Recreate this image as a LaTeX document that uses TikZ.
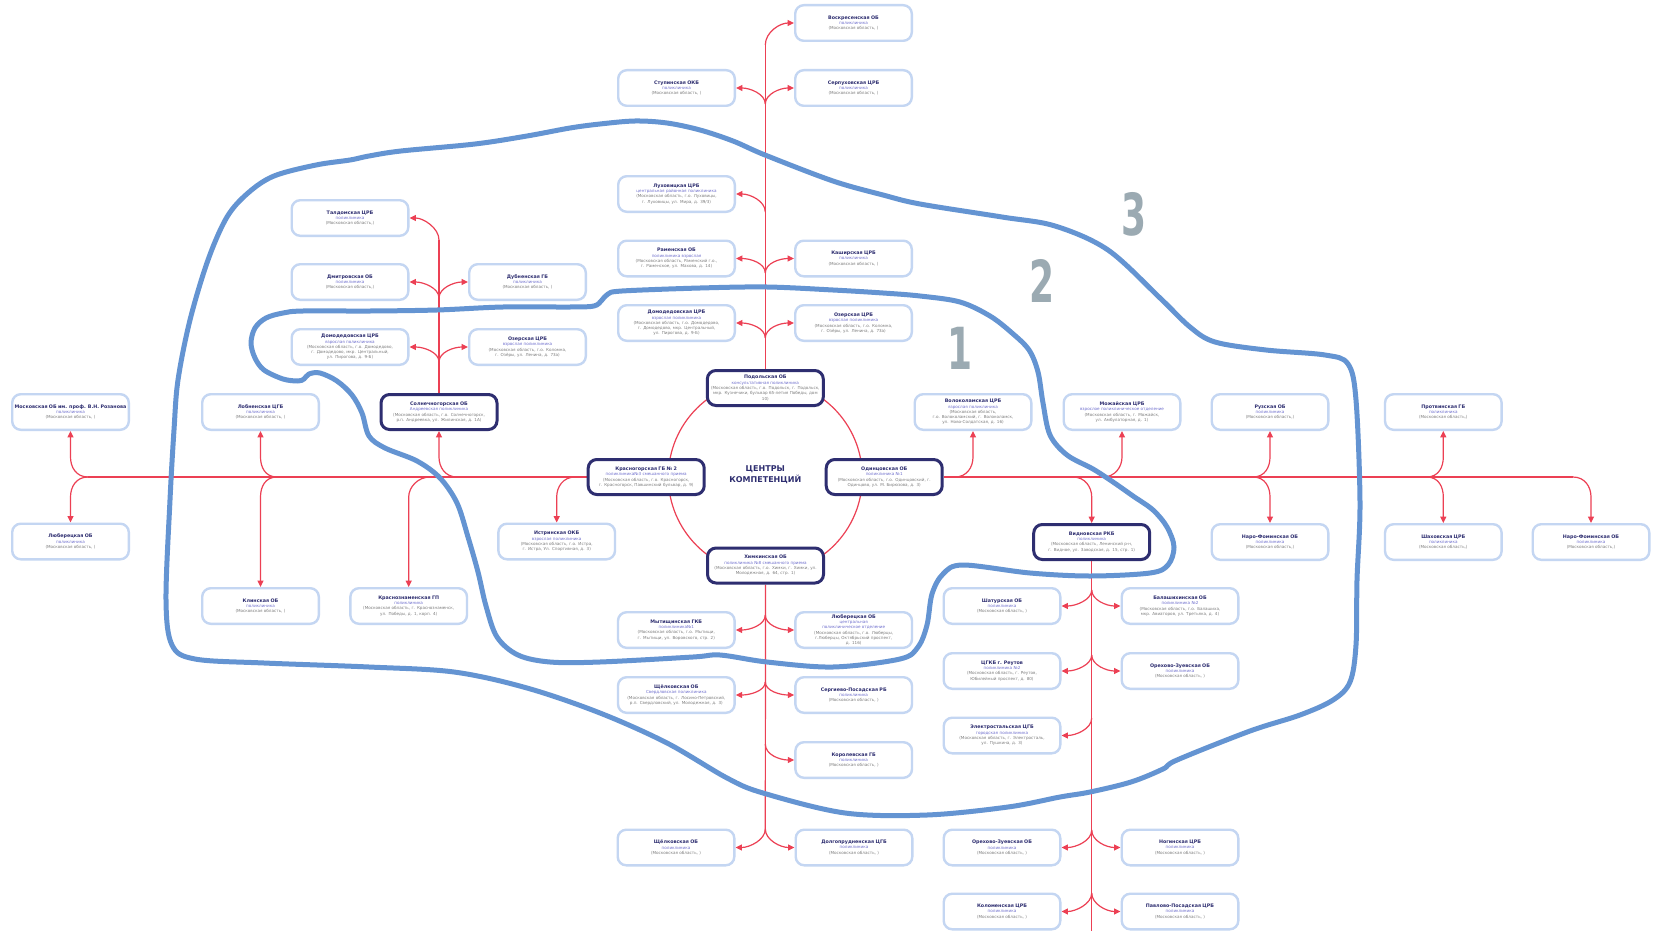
\documentclass[tikz,border=0pt]{standalone}
\usepackage{fontspec}
\setmainfont{DejaVu Sans}
\usetikzlibrary{arrows.meta,calc}
\definecolor{cred}{RGB}{236,64,84}
\definecolor{cblue}{RGB}{100,148,210}
\definecolor{cnavy}{RGB}{46,46,112}
\definecolor{clight}{RGB}{196,214,242}
\definecolor{cpurp}{RGB}{110,110,205}
\definecolor{cgrey}{RGB}{125,125,125}
\definecolor{cnum}{RGB}{155,170,178}
\pgfdeclarelayer{bgl}
\pgfdeclarelayer{midl}
\pgfsetlayers{bgl,midl,main}
\newcommand{\bxT}[1]{{\fontsize{2.4pt}{2.8pt}\selectfont\bfseries\color{cnavy}#1}}
\newcommand{\bxS}[1]{{\color{cpurp}#1}}
\newcommand{\bxA}[1]{{\color{cgrey}#1}}
\newcommand{\hospnode}[6][lbox]{\node[#1] (#2) at (#3) {\bxT{#4}\\\bxS{#5}\\\bxA{#6}};}
\tikzset{
  conn/.style={draw=cred, line width=0.6pt},
  arr/.style={conn, -{Triangle[length=3.2pt,width=3pt]}},
  lbox/.style={draw=clight, line width=1.2pt, rounded corners=4.3pt, fill=white,
    minimum width=58.3pt, minimum height=17.8pt, align=center, text width=57pt,
    inner sep=0.4pt, font=\fontsize{2.05pt}{2.65pt}\selectfont},
  dbox/.style={lbox, draw=cnavy, line width=1.5pt, minimum width=58pt, minimum height=17.5pt},
  contour/.style={draw=cblue, line width=2.5pt, line cap=round, line join=round},
  numl/.style={text=cnum, font=\fontsize{29pt}{29pt}\selectfont\bfseries, inner sep=0pt},
}
\begin{document}
\begin{tikzpicture}[x=0.5pt, y=-0.5pt]
\useasboundingbox (0,0) rectangle (1654,931);

% ---------- nodes ----------
\hospnode{vosk}{853.5,23}{Воскресенская ОБ}{поликлиника}{(Московская область, )}
\hospnode{stup}{676.5,88}{Ступинская ОКБ}{поликлиника}{(Московская область, )}
\hospnode{serp}{853.5,88}{Серпуховская ЦРБ}{поликлиника}{(Московская область, )}
\hospnode{luh}{676.5,194}{Луховицкая ЦРБ}{центральная районная поликлиника}{(Московская область, г.о. Луховицы,\\г. Луховицы, ул. Мира, д. 39/3)}
\hospnode{ram}{676.5,258.5}{Раменская ОБ}{поликлиника взрослая}{(Московская область, Раменский г.о.,\\г. Раменское, ул. Махова, д. 14)}
\hospnode{kash}{853.5,258.5}{Каширская ЦРБ}{поликлиника}{(Московская область, )}
\hospnode{domt}{676.5,323}{Домодедовская ЦРБ}{взрослая поликлиника}{(Московская область, г.о. Домодедово,\\г. Домодедово, мкр. Центральный,\\ул. Пирогова, д. 9-Б)}
\hospnode{ozt}{853.5,323}{Озерская ЦРБ}{взрослая поликлиника}{(Московская область, г.о. Коломна,\\г. Озёры, ул. Ленина, д. 73а)}
\hospnode[dbox]{podol}{765.3,388}{Подольская ОБ}{консультативная поликлиника}{(Московская область, г.о. Подольск, г. Подольск,\\мкр. Кузнечики, бульвар 65-летия Победы, дом\\10)}
\hospnode[dbox]{krg}{646.2,477}{Красногорская ГБ № 2}{поликлиника№3 смешанного приема}{(Московская область, г.о. Красногорск,\\г. Красногорск, Павшинский бульвар, д. 9)}
\hospnode[dbox]{odin}{884.2,477}{Одинцовская ОБ}{поликлиника №1}{(Московская область, г.о. Одинцовский, г.\\Одинцово, ул. М. Бирюзова, д. 3)}
\hospnode[dbox]{khim}{765.5,565.5}{Химкинская ОБ}{поликлиника №8 смешанного приема}{(Московская область, г.о. Химки, г. Химки, ул.\\Молодежная, д. 64, стр. 1)}
\hospnode{tald}{350,218}{Талдомская ЦРБ}{поликлиника}{(Московская область,)}
\hospnode{dmit}{350,282}{Дмитровская ОБ}{поликлиника}{(Московская область,)}
\hospnode{dub}{527.5,282}{Дубненская ГБ}{поликлиника}{(Московская область, )}
\hospnode{doml}{350,347}{Домодедовская ЦРБ}{взрослая поликлиника}{(Московская область, г.о. Домодедово,\\г. Домодедово, мкр. Центральный,\\ул. Пирогова, д. 9-Б)}
\hospnode{ozl}{527.5,347}{Озерская ЦРБ}{взрослая поликлиника}{(Московская область, г.о. Коломна,\\г. Озёры, ул. Ленина, д. 73а)}
\hospnode[dbox]{soln}{439,412}{Солнечногорская ОБ}{Андреевская поликлиника}{(Московская область, г.о. Солнечногорск,\\р.п. Андреевка, ул. Жилинская, д. 1А)}
\hospnode{roz}{70.5,412}{Московская ОБ им. проф. В.Н. Розанова}{поликлиника}{(Московская область, )}
\hospnode{lubl}{70.5,541.5}{Люберецкая ОБ}{поликлиника}{(Московская область, )}
\hospnode{lobn}{260.5,412}{Лобненская ЦГБ}{поликлиника}{(Московская область, )}
\hospnode{klin}{260.5,606}{Клинская ОБ}{поликлиника}{(Московская область, )}
\hospnode{kras}{408.7,606}{Краснознаменская ГП}{поликлиника}{(Московская область, г. Краснознаменск,\\ул. Победы, д. 1, корп. 4)}
\hospnode{istr}{556.7,541.5}{Истринская ОКБ}{взрослая поликлиника}{(Московская область, г.о. Истра,\\г. Истра, Ул. Спортивная, д. 3)}
\hospnode{volok}{973,412}{Волоколамская ЦРБ}{взрослая поликлиника}{(Московская область,\\г.о. Волоколамский, г. Волоколамск,\\ул. Ново-Солдатская, д. 16)}
\hospnode{moz}{1122,412}{Можайская ЦРБ}{взрослое поликлиническое отделение}{(Московская область, г. Можайск,\\ул. Амбулаторная, д. 1)}
\hospnode{ruz}{1270,412}{Рузская ОБ}{поликлиника}{(Московская область,)}
\hospnode{prot}{1443.3,412}{Протвинская ГБ}{поликлиника}{(Московская область,)}
\hospnode[dbox]{vidn}{1091.7,542}{Видновская РКБ}{поликлиника}{(Московская область, Ленинский р-н,\\г. Видное, ул. Заводская, д. 15, стр. 1)}
\hospnode{nf1}{1270,542}{Наро-Фоминская ОБ}{поликлиника}{(Московская область,)}
\hospnode{shah}{1443.3,542}{Шаховская ЦРБ}{поликлиника}{(Московская область,)}
\hospnode{nf2}{1591,542}{Наро-Фоминская ОБ}{поликлиника}{(Московская область,)}
\hospnode{myt}{676.3,630}{Мытищинская ГКБ}{поликлиника№1}{(Московская область, г.о. Мытищи,\\г. Мытищи, ул. Воровского, стр. 2)}
\hospnode{lubc}{853.7,630}{Люберецкая ОБ}{центральная\\поликлиническое отделение}{(Московская область, г.о. Люберцы,\\г.Люберцы, Октябрьский проспект,\\д. 116)}
\hospnode{shch}{676.3,695}{Щёлковская ОБ}{Свердловская поликлиника}{(Московская область, г. Лосино-Петровский,\\р.п. Свердловский, ул. Молодежная, д. 3)}
\hospnode{serg}{853.7,695}{Сергиево-Посадская РБ}{поликлиника}{(Московская область, )}
\hospnode{korol}{853.7,760}{Королевская ГБ}{поликлиника}{(Московская область, )}
\hospnode{shchb}{676,847.5}{Щёлковская ОБ}{поликлиника}{(Московская область, )}
\hospnode{dolg}{854,847.5}{Долгопрудненская ЦГБ}{поликлиника}{(Московская область, )}
\hospnode{shat}{1002,606}{Шатурская ОБ}{поликлиника}{(Московская область, )}
\hospnode{bal}{1180,606}{Балашихинская ОБ}{поликлиника №2}{(Московская область, г.о. Балашиха,\\мкр. Авиаторов, ул. Третьяка, д. 4)}
\hospnode{reut}{1002,671}{ЦГКБ г. Реутов}{поликлиника №2}{(Московская область, г. Реутов,\\Юбилейный проспект, д. 80)}
\hospnode{orm}{1180,671}{Орехово-Зуевская ОБ}{поликлиника}{(Московская область, )}
\hospnode{elek}{1002,735.5}{Электростальская ЦГБ}{городская поликлиника}{(Московская область, г. Электросталь,\\ул. Пушкина, д. 3)}
\hospnode{orb}{1002,847.5}{Орехово-Зуевская ОБ}{поликлиника}{(Московская область, )}
\hospnode{nog}{1180,847.5}{Ногинская ЦРБ}{поликлиника}{(Московская область, )}
\hospnode{kol}{1002,911.5}{Коломенская ЦРБ}{поликлиника}{(Московская область, )}
\hospnode{pav}{1180,911.5}{Павлово-Посадская ЦРБ}{поликлиника}{(Московская область, )}

\node[font=\fontsize{4pt}{5.5pt}\selectfont\bfseries, text=cnavy, align=center] (cent) at (765.3,475) {ЦЕНТРЫ\\КОМПЕТЕНЦИЙ};

\node[numl] (n1) at (960,348) {\scalebox{0.62}[1]{1}};
\node[numl] (n2) at (1042,281) {\scalebox{0.62}[1]{2}};
\node[numl] (n3) at (1134,214) {\scalebox{0.62}[1]{3}};

% ---------- fork coordinates ----------
\coordinate (tTop) at (765.3,45);
\coordinate (tF1) at (765.3,104);
\coordinate (tF2) at (765.3,212);
\coordinate (tF3) at (765.3,273);
\coordinate (tF4) at (765.3,338);
\coordinate (bF1) at (765.3,615);
\coordinate (bF2) at (765.3,682);
\coordinate (bF3) at (765.3,744);
\coordinate (bF4) at (765.3,829);
\coordinate (rF1) at (1091.7,590);
\coordinate (rF2) at (1091.7,655);
\coordinate (rF3) at (1091.7,718);
\coordinate (rF4) at (1091.7,830);
\coordinate (rF5) at (1091.7,893);
\coordinate (rEnd) at (1091.7,931);
\coordinate (lTop) at (439,240);
\coordinate (lF1) at (439,298);
\coordinate (lF2) at (439,362);
\coordinate (hL) at (88,477);
\coordinate (hLob) at (277,477);
\coordinate (hKras) at (430,477);
\coordinate (hSoln) at (457,477);
\coordinate (hIstr) at (575,477);
\coordinate (hVol) at (955,477);
\coordinate (hVid) at (1073,477);
\coordinate (hMoz) at (1103,477);
\coordinate (hRuz) at (1253,477);
\coordinate (hProt) at (1426.7,477);
\coordinate (hR) at (1573,477);

\begin{pgfonlayer}{bgl}
\fill[white] (0,0) rectangle (1654,931);
\draw[conn] (765.3,477) circle[radius=97];
% top trunk
\draw[conn] (podol.north) -- (tTop);
\draw[arr] (tTop) .. controls +(0,-13) and +(-14,0) .. (vosk.west);
\draw[arr] (tF1) .. controls +(0,-10) and +(14,0) .. (stup.east);
\draw[arr] (tF1) .. controls +(0,-10) and +(-14,0) .. (serp.west);
\draw[arr] (tF2) .. controls +(0,-11) and +(14,0) .. (luh.east);
\draw[arr] (tF3) .. controls +(0,-10) and +(14,0) .. (ram.east);
\draw[arr] (tF3) .. controls +(0,-10) and +(-14,0) .. (kash.west);
\draw[arr] (tF4) .. controls +(0,-10) and +(14,0) .. (domt.east);
\draw[arr] (tF4) .. controls +(0,-10) and +(-14,0) .. (ozt.west);
% bottom trunk
\draw[conn] (khim.south) -- (bF4);
\draw[arr] (bF1) .. controls +(0,10) and +(14,0) .. (myt.east);
\draw[arr] (bF1) .. controls +(0,10) and +(-14,0) .. (lubc.west);
\draw[arr] (bF2) .. controls +(0,9) and +(14,0) .. (shch.east);
\draw[arr] (bF2) .. controls +(0,9) and +(-14,0) .. (serg.west);
\draw[arr] (bF3) .. controls +(0,11) and +(-14,0) .. (korol.west);
\draw[arr] (bF4) .. controls +(0,11) and +(14,0) .. (shchb.east);
\draw[arr] (bF4) .. controls +(0,11) and +(-14,0) .. (dolg.west);
% right-bottom trunk
\draw[conn] (vidn.south) -- (rEnd);
\draw[arr] (rF1) .. controls +(0,10) and +(14,0) .. (shat.east);
\draw[arr] (rF1) .. controls +(0,10) and +(-14,0) .. (bal.west);
\draw[arr] (rF2) .. controls +(0,10) and +(14,0) .. (reut.east);
\draw[arr] (rF2) .. controls +(0,10) and +(-14,0) .. (orm.west);
\draw[arr] (rF3) .. controls +(0,11) and +(14,0) .. (elek.east);
\draw[arr] (rF4) .. controls +(0,11) and +(14,0) .. (orb.east);
\draw[arr] (rF4) .. controls +(0,11) and +(-14,0) .. (nog.west);
\draw[arr] (rF5) .. controls +(0,11) and +(14,0) .. (kol.east);
\draw[arr] (rF5) .. controls +(0,11) and +(-14,0) .. (pav.west);
% left trunk
\draw[conn] (soln.north) -- (lTop);
\draw[arr] (lTop) .. controls +(0,-12) and +(14,0) .. (tald.east);
\draw[arr] (lF1) .. controls +(0,-10) and +(14,0) .. (dmit.east);
\draw[arr] (lF1) .. controls +(0,-10) and +(-14,0) .. (dub.west);
\draw[arr] (lF2) .. controls +(0,-10) and +(14,0) .. (doml.east);
\draw[arr] (lF2) .. controls +(0,-10) and +(-14,0) .. (ozl.west);
% horizontal, left part
\draw[conn] (krg.west) -- (hL);
\draw[arr] (hL) .. controls +(-12,0) and +(0,10) .. ($(roz.south |- hL)+(0,-20)$) -- (roz.south);
\draw[arr] (hL) .. controls +(-12,0) and +(0,-10) .. ($(lubl.north |- hL)+(0,20)$) -- (lubl.north);
\draw[arr] (hLob) .. controls +(-12,0) and +(0,10) .. ($(lobn.south |- hLob)+(0,-20)$) -- (lobn.south);
\draw[arr] (hLob) .. controls +(-12,0) and +(0,-10) .. ($(klin.north |- hLob)+(0,20)$) -- (klin.north);
\draw[arr] (hKras) .. controls +(-12,0) and +(0,-10) .. ($(kras.north |- hKras)+(0,20)$) -- (kras.north);
\draw[arr] (hSoln) .. controls +(-12,0) and +(0,10) .. ($(soln.south |- hSoln)+(0,-20)$) -- (soln.south);
\draw[arr] (hIstr) .. controls +(-12,0) and +(0,-10) .. ($(istr.north |- hIstr)+(0,20)$) -- (istr.north);
% horizontal, right part
\draw[conn] (odin.east) -- (hR);
\draw[arr] (hVol) .. controls +(12,0) and +(0,10) .. ($(volok.south |- hVol)+(0,-20)$) -- (volok.south);
\draw[arr] (hVid) .. controls +(12,0) and +(0,-10) .. ($(vidn.north |- hVid)+(0,20)$) -- (vidn.north);
\draw[arr] (hMoz) .. controls +(12,0) and +(0,10) .. ($(moz.south |- hMoz)+(0,-20)$) -- (moz.south);
\draw[arr] (hRuz) .. controls +(12,0) and +(0,10) .. ($(ruz.south |- hRuz)+(0,-20)$) -- (ruz.south);
\draw[arr] (hRuz) .. controls +(12,0) and +(0,-10) .. ($(nf1.north |- hRuz)+(0,20)$) -- (nf1.north);
\draw[arr] (hProt) .. controls +(12,0) and +(0,10) .. ($(prot.south |- hProt)+(0,-20)$) -- (prot.south);
\draw[arr] (hProt) .. controls +(12,0) and +(0,-10) .. ($(shah.north |- hProt)+(0,20)$) -- (shah.north);
\draw[arr] (hR) .. controls +(12,0) and +(0,-10) .. ($(nf2.north |- hR)+(0,20)$) -- (nf2.north);
\end{pgfonlayer}

\begin{pgfonlayer}{midl}
% inner zone contour
\draw[contour] plot[smooth cycle, tension=0.55] coordinates {
(251,343) (255,328) (266,318) (283,313) (303,311) (370,311) (437,310) (503,307)
(570,307) (594,306) (602,300) (608,294) (622,291) (700,288) (767,287) (833,290)
(883,293) (920,296) (960,302) (990,316) (1012,333) (1029,350) (1038,372) (1043,403)
(1050,435) (1067,455) (1093,469) (1113,482) (1133,496) (1153,510) (1167,527) (1174,547)
(1168,565) (1150,573) (1090,576) (1030,573) (963,565) (943,574) (932,594) (927,625)
(918,647) (900,659) (833,667) (767,662) (720,655) (693,657) (600,662) (550,662)
(518,655) (497,637) (486,606) (478,572) (468,537) (457,503) (440,478) (417,461)
(385,448) (369,436) (362,413) (352,395) (337,381) (320,373) (309,374) (304,379)
(298,381) (283,379) (264,370) (255,358)};
% outer zone contour
\draw[contour] plot[smooth cycle, tension=0.55] coordinates {
(227,217) (248,193) (274,176) (316,165) (350,160) (369,156) (401,151) (475,144)
(527,136) (570,128) (600,124) (635,121) (667,123) (700,130) (733,141) (765,155)
(833,181) (883,195) (920,204) (1002,217) (1055,226) (1108,250) (1160,298) (1190,327)
(1215,342) (1266,350) (1325,355) (1348,364) (1356,400) (1360,503) (1357,580) (1356,645)
(1350,682) (1333,700) (1300,715) (1250,731) (1177,760) (1163,769) (1131,782) (1090,792)
(1060,797) (1008,807) (927,815) (845,813) (763,793) (727,778) (667,743) (600,713)
(527,688) (454,672) (369,667) (264,663) (195,659) (172,645) (166,600) (170,500)
(174,430) (178,380) (190,320) (208,260)};
\end{pgfonlayer}
\end{tikzpicture}
\end{document}
